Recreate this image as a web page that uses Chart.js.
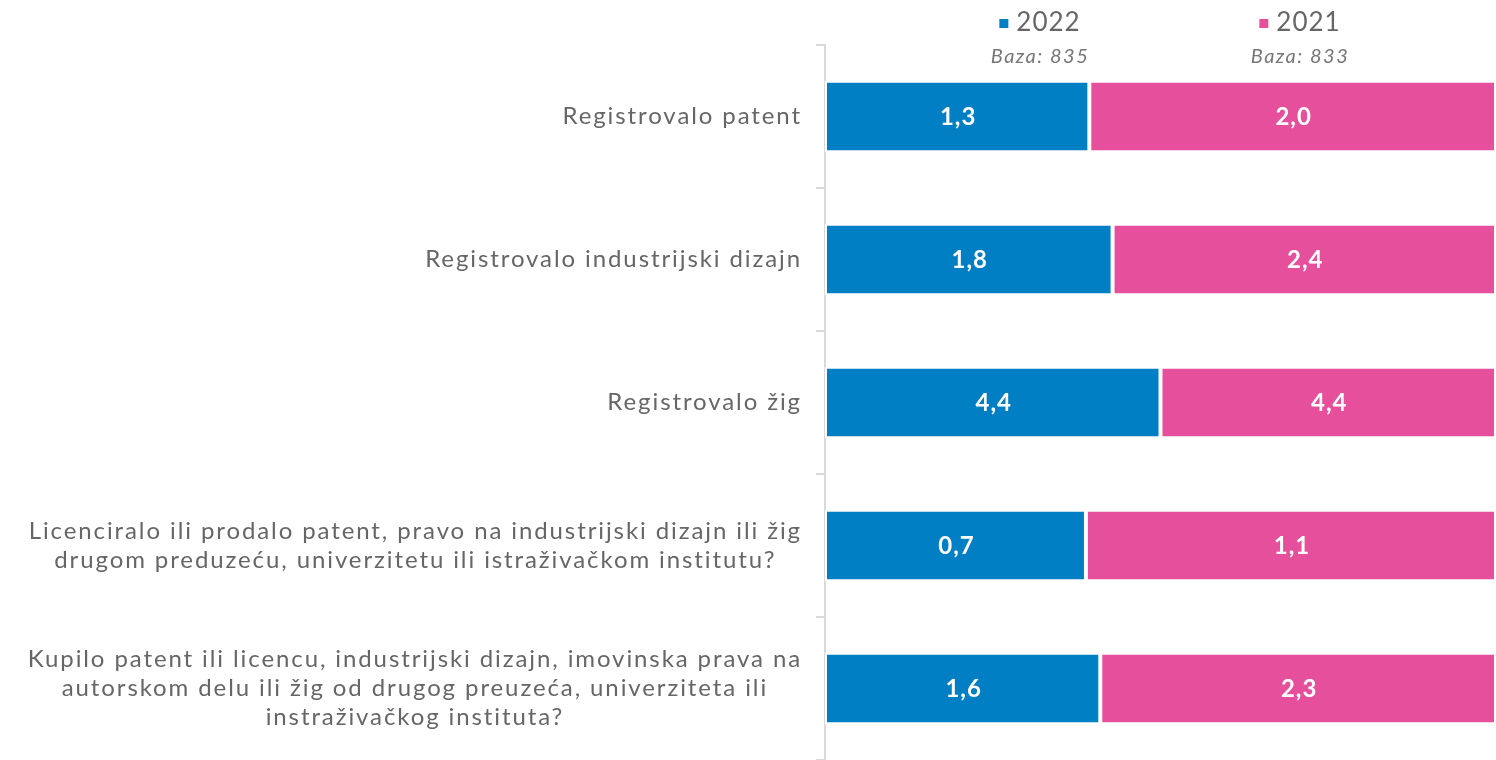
<!DOCTYPE html>
<html>
<head>
<meta charset="utf-8">
<script src="https://cdn.jsdelivr.net/npm/chart.js@4/dist/chart.umd.min.js"></script>
<style>
  html, body { margin: 0; padding: 0; background: #fff; }
  #wrap { width: 1496px; height: 760px; }
</style>
</head>
<body>
<div id="wrap"><canvas id="bar_patents" width="1496" height="760"></canvas></div>
<script>
// categories (multi-line labels split into lines)
const categories = [
    ['Registrovalo patent'],
    ['Registrovalo industrijski dizajn'],
    ['Registrovalo žig'],
    ['Licenciralo ili prodalo patent, pravo na industrijski dizajn ili žig',
     'drugom preduzeću, univerzitetu ili istraživačkom institutu?'],
    ['Kupilo patent ili licencu, industrijski dizajn, imovinska prava na',
     'autorskom delu ili žig od drugog preuzeća, univerziteta ili',
     'instraživačkog instituta?']
];
const seriesNames = ['2022', '2021'];
const bases = ['Baza: 835', 'Baza: 833'];
const values2022 = [1.3, 1.8, 4.4, 0.7, 1.6];
const values2021 = [2.0, 2.4, 4.4, 1.1, 2.3];
const colors = ['#007FC5', '#E54F9B'];

const FONT = 'Lato, "DejaVu Sans", sans-serif';
const raw = [values2022, values2021];

// bars are shown as shares of the row total (100% stacked)
const share = (arr, i) => arr[i] / (values2022[i] + values2021[i]) * 100;

// value labels in the middle of each bar
const valueLabels = {
    id: 'valueLabels',
    afterDatasetsDraw(chart) {
        const ctx = chart.ctx;
        ctx.save();
        ctx.fillStyle = '#fff';
        ctx.font = 'bold 24px ' + FONT;
        ctx.letterSpacing = '1px';
        ctx.textAlign = 'center';
        ctx.textBaseline = 'middle';
        chart.data.datasets.forEach((ds, d) => {
            chart.getDatasetMeta(d).data.forEach((bar, i) => {
                const p = bar.getProps(['x', 'base', 'y'], true);
                ctx.fillText(raw[d][i].toFixed(1).replace('.', ','), (p.x + p.base) / 2 + 1, p.y + 1);
            });
        });
        ctx.restore();
    }
};

// category labels: right edge near the axis, lines centred within a block
const categoryLabels = {
    id: 'categoryLabels',
    afterDraw(chart) {
        const ctx = chart.ctx;
        const y = chart.scales.y;
        const right = 802;
        const lh = 29;
        ctx.save();
        ctx.fillStyle = '#666666';
        ctx.font = '24px ' + FONT;
        ctx.letterSpacing = '1.9px';
        ctx.textAlign = 'center';
        ctx.textBaseline = 'middle';
        categories.forEach((lines, i) => {
            const cy = y.getPixelForValue(i);
            const w = Math.max(...lines.map(l => ctx.measureText(l).width));
            const cx = right - w / 2;
            lines.forEach((l, k) => {
                ctx.fillText(l, cx, cy + (k - (lines.length - 1) / 2) * lh);
            });
        });
        ctx.restore();
    }
};

// legend with base counts underneath
const topLegend = {
    id: 'topLegend',
    afterDraw(chart) {
        const ctx = chart.ctx;
        const spots = [1040, 1300];
        ctx.save();
        seriesNames.forEach((name, d) => {
            const cx = spots[d];
            ctx.font = '26px ' + FONT;
            ctx.letterSpacing = '1px';
            const tw = ctx.measureText(name).width;
            const left = cx - (tw + 17) / 2;
            ctx.fillStyle = colors[d];
            ctx.fillRect(left, 19, 9, 9);
            ctx.fillStyle = '#666666';
            ctx.textAlign = 'left';
            ctx.textBaseline = 'middle';
            ctx.fillText(name, left + 17, 23);
            ctx.font = 'italic 20px ' + FONT;
            ctx.letterSpacing = '1.5px';
            ctx.fillStyle = '#777777';
            ctx.textAlign = 'center';
            ctx.fillText(bases[d], cx, 57);
        });
        ctx.restore();
    }
};

new Chart(document.getElementById('bar_patents'), {
    type: 'bar',
    plugins: [valueLabels, categoryLabels, topLegend],
    data: {
        labels: categories.map(c => c.join(' ')),
        datasets: seriesNames.map((name, d) => ({
            label: name,
            data: raw[d].map((v, i) => share(raw[d], i)),
            backgroundColor: colors[d],
            borderColor: '#fff',
            borderWidth: 2,
            borderSkipped: false,
            barPercentage: 0.5,
            categoryPercentage: 1
        }))
    },
    options: {
        indexAxis: 'y',
        responsive: false,
        animation: false,
        layout: { padding: { top: 45, right: 0, bottom: 0, left: 0 } },
        plugins: {
            legend: { display: false },
            tooltip: { enabled: false }
        },
        scales: {
            x: { stacked: true, display: false, min: 0, max: 100 },
            y: {
                stacked: true,
                afterFit: s => { s.width = 825; },
                ticks: { display: false },
                grid: { drawOnChartArea: false, color: '#D9D9D9', lineWidth: 2, tickLength: 9 },
                border: { color: '#D9D9D9', width: 2 }
            }
        }
    }
});
</script>
</body>
</html>
